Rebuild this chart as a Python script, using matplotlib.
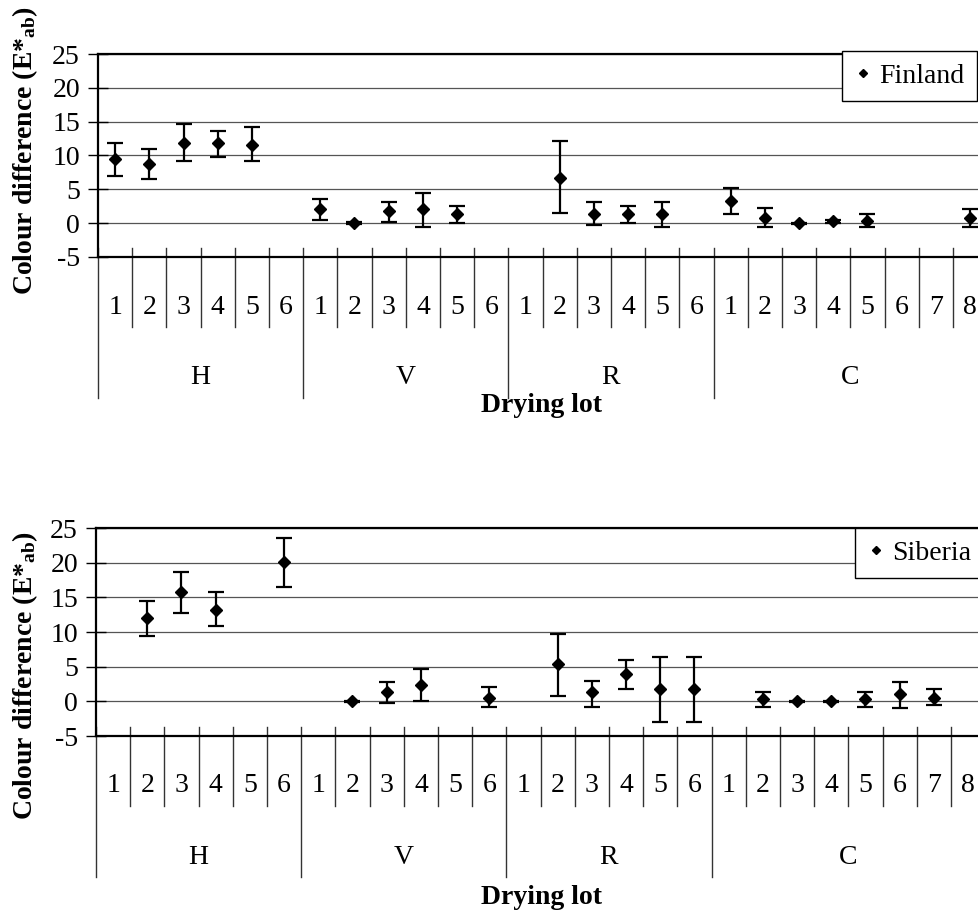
import matplotlib.pyplot as plt
import numpy as np

plt.rcParams['font.family'] = 'Liberation Serif'
plt.rcParams['mathtext.default'] = 'regular'
plt.rcParams['axes.unicode_minus'] = False

nan = np.nan

# drying lots: 6 in H, V, R and 8 in C
groups = ['H', 'V', 'R', 'C']
group_sizes = [6, 6, 6, 8]
lot_labels = [str(i + 1) for n in group_sizes for i in range(n)]

# Finland: mean colour difference and ends of the error bars
fin_mean = [9.5, 8.7, 11.8, 11.8, 11.5, nan, 2.1, 0.0, 1.8, 2.1, 1.3, nan,
            nan, 6.7, 1.3, 1.3, 1.3, nan, 3.3, 0.7, 0.0, 0.25, 0.25, nan, nan, 0.7]
fin_hi = [11.8, 11.0, 14.6, 13.6, 14.2, nan, 3.6, 0.1, 3.1, 4.4, 2.6, nan,
          nan, 12.1, 3.1, 2.6, 3.1, nan, 5.2, 2.3, 0.05, 0.45, 1.3, nan, nan, 2.1]
fin_lo = [7.0, 6.6, 9.2, 9.8, 9.2, nan, 0.5, -0.1, 0.2, -0.5, 0.0, nan,
          nan, 1.5, -0.3, 0.0, -0.5, nan, 1.3, -0.5, -0.05, 0.05, -0.5, nan, nan, -0.5]

# Siberia
sib_mean = [nan, 12.0, 15.7, 13.2, nan, 20.1, nan, 0.0, 1.3, 2.3, nan, 0.5,
            nan, 5.4, 1.3, 3.9, 1.8, 1.8, nan, 0.3, 0.0, 0.0, 0.3, 1.1, 0.5, nan]
sib_hi = [nan, 14.5, 18.6, 15.7, nan, 23.6, nan, 0.1, 2.8, 4.6, nan, 2.0,
          nan, 9.7, 3.0, 5.9, 6.4, 6.4, nan, 1.3, 0.05, 0.05, 1.3, 2.8, 1.8, nan]
sib_lo = [nan, 9.4, 12.7, 10.9, nan, 16.5, nan, -0.1, -0.2, 0.0, nan, -0.8,
          nan, 0.8, -0.8, 1.8, -3.0, -3.0, nan, -0.8, -0.05, -0.05, -0.8, -1.0, -0.5, nan]

W, H = 979, 915
fig = plt.figure(figsize=(W / 100, H / 100), dpi=100)
FS = 20


def panel(left, top, bottom, mean, lo, hi, name, leg_xy, ylab_y, xlab_y):
    ax = fig.add_axes([left / W, 1 - bottom / H, (left + 26 * 34.2) / W - left / W,
                       (bottom - top) / H])
    axh = bottom - top
    mean = np.array(mean)
    yerr = [mean - np.array(lo), np.array(hi) - mean]
    x = np.arange(26) + 0.5
    ax.errorbar(x, mean, yerr=yerr, fmt='D', color='black', ms=6, capsize=5.5,
                elinewidth=1.6, capthick=1.6, zorder=3)
    ax.set_xlim(0, 26)
    ax.set_ylim(-5, 25)
    ax.set_yticks(range(-5, 30, 5))
    ax.grid(axis='y', color='#555555', lw=0.9)
    ax.set_axisbelow(True)
    ax.tick_params(axis='y', direction='inout', length=14, width=1,
                   labelsize=FS, pad=6)
    ax.set_xticks([])
    for s in ['left', 'bottom', 'top']:
        ax.spines[s].set_linewidth(1.6)
    ax.spines['right'].set_visible(False)

    tr = ax.get_xaxis_transform()
    bounds = np.cumsum([0] + group_sizes)
    for k in range(27):
        low = 141 if k in bounds else 70
        ax.plot([k, k], [9 / axh, -low / axh], transform=tr, color='#333333',
                lw=1, clip_on=False)
    for i, lab in enumerate(lot_labels):
        ax.annotate(lab, (i + 0.5, 0), xycoords=tr, xytext=(0, -50),
                    textcoords='offset pixels', ha='center', va='center', fontsize=FS)
    for g, a, b in zip(groups, bounds[:-1], bounds[1:]):
        ax.annotate(g, ((a + b) / 2, 0), xycoords=tr, xytext=(0, -121),
                    textcoords='offset pixels', ha='center', va='center', fontsize=FS)

    fig.text(25 / W, 1 - ylab_y / H, 'Colour difference (E*$_{ab}$)', rotation=90,
             ha='center', va='center', fontsize=FS, fontweight='bold')
    fig.text(542 / W, 1 - xlab_y / H, 'Drying lot', ha='center', va='center',
             fontsize=FS, fontweight='bold')

    h, = ax.plot([], [], 'D', color='black', ms=4.5, label=name)
    leg = ax.legend(handles=[h], loc='upper left', bbox_to_anchor=(leg_xy[0] / W, 1 - leg_xy[1] / H),
                    bbox_transform=fig.transFigure, borderaxespad=0, fontsize=FS,
                    fancybox=False, framealpha=1, edgecolor='black', handlelength=0.6,
                    handletextpad=0.3, borderpad=0.45)
    leg.get_frame().set_linewidth(1)
    return ax


panel(98, 54, 257, fin_mean, fin_lo, fin_hi, 'Finland', (842, 51), 151, 405)
panel(96, 528, 736, sib_mean, sib_lo, sib_hi, 'Siberia', (855, 528), 676, 897)

fig.savefig('out.png', dpi=100)
